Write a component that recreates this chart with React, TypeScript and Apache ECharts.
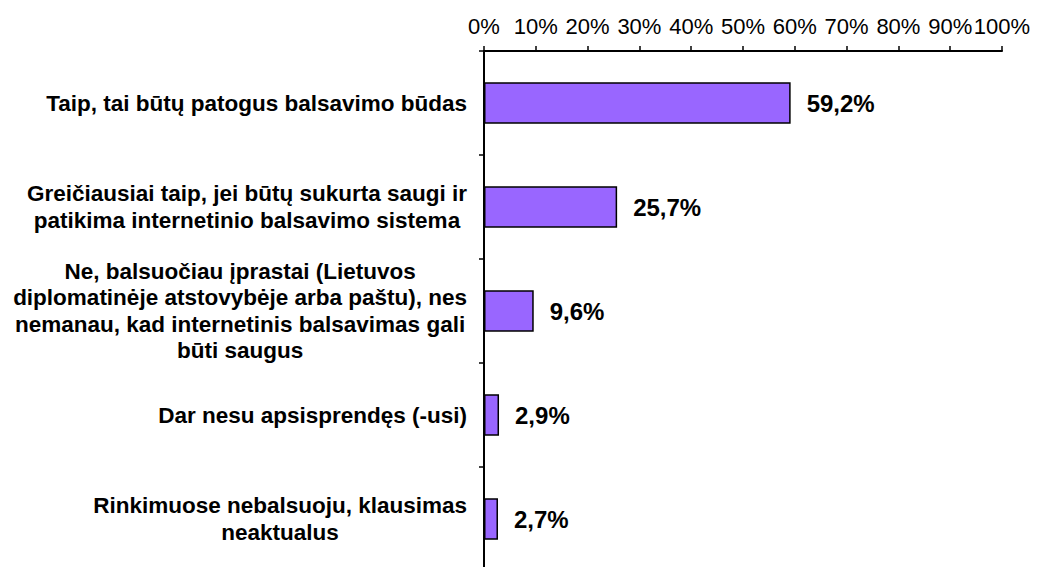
import React, { useEffect, useRef } from "react";
import * as echarts from "echarts";

const categories: string[] = [
  "Taip, tai būtų patogus balsavimo būdas",
  "Greičiausiai taip, jei būtų sukurta saugi ir\npatikima internetinio balsavimo sistema",
  "Ne, balsuočiau įprastai (Lietuvos\ndiplomatinėje atstovybėje arba paštu), nes\nnemanau, kad internetinis balsavimas gali\nbūti saugus",
  "Dar nesu apsisprendęs (-usi)",
  "Rinkimuose nebalsuoju, klausimas\nneaktualus",
];
const values: number[] = [59.2, 25.7, 9.6, 2.9, 2.7];
const axisMin = 0;
const axisMax = 100;
const axisStep = 10;

const FONT = "'Liberation Sans', Arial, Helvetica, sans-serif";

export default function App() {
  const ref = useRef<HTMLDivElement>(null);
  useEffect(() => {
    if (!ref.current) return;
    const chart = echarts.init(ref.current, undefined, { renderer: "svg" });
    chart.setOption({
      animation: false,
      backgroundColor: "#ffffff",
      grid: { left: 484, top: 51, width: 518, height: 520, containLabel: false, outerBoundsMode: "none" },
      xAxis: {
        type: "value",
        position: "top",
        min: axisMin,
        max: axisMax,
        interval: axisStep,
        splitLine: { show: false },
        axisLine: { show: true, lineStyle: { color: "#000", width: 2 } },
        axisTick: { show: true, inside: false, length: 5, lineStyle: { color: "#000", width: 1.5 } },
        axisLabel: {
          formatter: "{value}%",
          color: "#000",
          fontSize: 22,
          fontFamily: FONT,
          margin: 14,
        },
      },
      yAxis: {
        type: "category",
        inverse: true,
        data: categories,
        axisLine: { show: true, lineStyle: { color: "#000", width: 2 } },
        axisTick: { show: true, length: 5, lineStyle: { color: "#000", width: 1.5 } },
        axisLabel: {
          margin: 17,
          interval: 0,
          formatter: (v: string) => v.split("\n").map((l) => `{c|${l}}`).join("\n"),
          rich: {
            c: {
              align: "center",
              fontSize: 22.5,
              fontWeight: "bold",
              fontFamily: FONT,
              color: "#000",
              lineHeight: 26.5,
            },
          },
        },
      },
      series: [
        {
          type: "bar",
          data: values,
          barCategoryGap: "60%",
          itemStyle: { color: "#9966FF", borderColor: "#000", borderWidth: 1.5 },
          label: {
            show: true,
            position: "right",
            distance: 16,
            formatter: (p: any) => String(p.value).replace(".", ",") + "%",
            fontSize: 24,
            fontWeight: "bold",
            fontFamily: FONT,
            color: "#000",
          },
        },
      ],
    });
    return () => chart.dispose();
  }, []);
  return (
    <div
      ref={ref}
      style={{ position: "absolute", left: 0, top: 0, width: 1038, height: 567 }}
    />
  );
}
